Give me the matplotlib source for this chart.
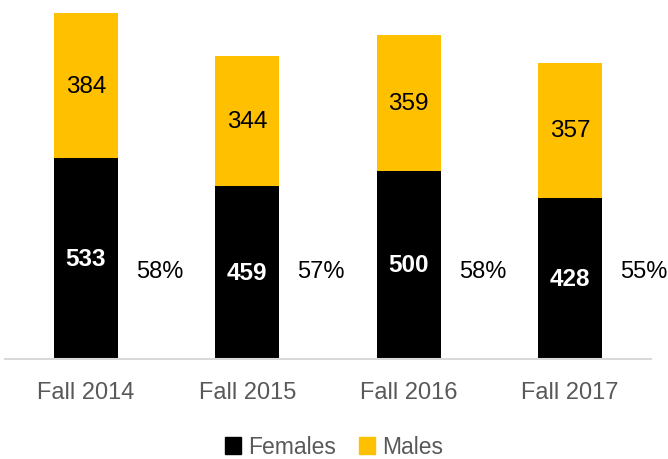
import numpy as np
import matplotlib.pyplot as plt
from matplotlib.patches import Patch

plt.rcParams['font.family'] = ['Liberation Sans', 'DejaVu Sans']

terms = ['Fall 2014', 'Fall 2015', 'Fall 2016', 'Fall 2017']
females = [533, 459, 500, 428]
males = [384, 344, 359, 357]
pct_female = ['58%', '57%', '58%', '55%']

black = '#000000'
gold = '#FFC000'
grey_text = '#595959'

fig = plt.figure(figsize=(6.68, 4.6), dpi=100)
ax = fig.add_axes([5.3 / 668, 100 / 460, 645.3 / 668, 360 / 460])

x = np.arange(len(terms))
width = 0.397
ax.bar(x, females, width, color=black, label='Females')
ax.bar(x, males, width, bottom=females, color=gold, label='Males')

for i in range(len(terms)):
    ax.text(x[i], females[i] / 2, str(females[i]), ha='center', va='center',
            color='white', fontsize=17.5, fontweight='bold')
    ax.text(x[i], females[i] + males[i] / 2, str(males[i]), ha='center', va='center',
            color='black', fontsize=17.5)
    ax.text(x[i] + 0.457, 233, pct_female[i], ha='center', va='center',
            color='black', fontsize=17)

ax.set_xlim(-0.5, len(terms) - 0.5)
ax.set_ylim(0, 955)
ax.set_yticks([])
ax.set_xticks(x)
ax.set_xticklabels(terms, fontsize=17, color=grey_text)
ax.tick_params(axis='x', length=0, pad=16)
for s in ['top', 'right', 'left']:
    ax.spines[s].set_visible(False)
ax.spines['bottom'].set_color('#D9D9D9')
ax.spines['bottom'].set_linewidth(1.5)

handles = [Patch(color=black, label='Females'), Patch(color=gold, label='Males')]
leg = fig.legend(handles=handles, loc='center', bbox_to_anchor=(0.5, 12 / 460),
                 ncol=2, frameon=False, fontsize=16.5, handlelength=0.7, handleheight=0.7,
                 handletextpad=0.3, columnspacing=1.0)
for t in leg.get_texts():
    t.set_color(grey_text)

fig.savefig('out.png', dpi=100)
